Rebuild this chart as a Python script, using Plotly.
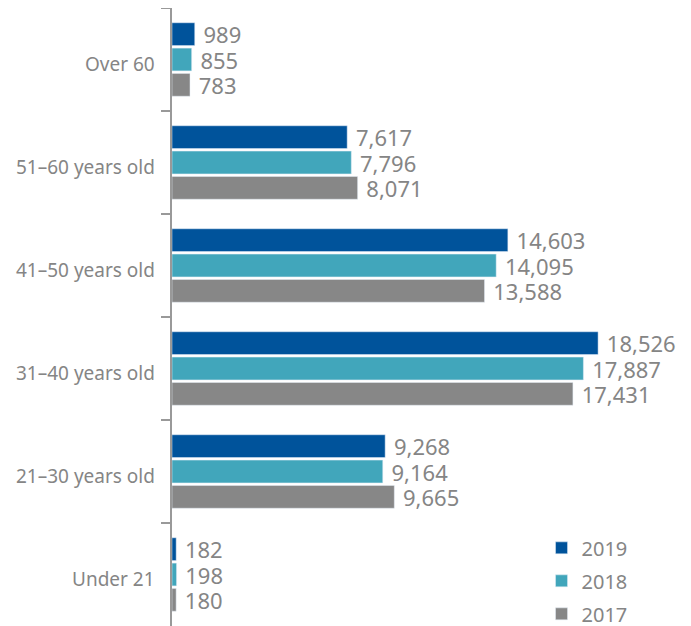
import plotly.graph_objects as go

# age bands, top to bottom
age_groups = ["Over 60", "51–60 years old", "41–50 years old",
              "31–40 years old", "21–30 years old", "Under 21"]

staff_2019 = [989, 7617, 14603, 18526, 9268, 182]
staff_2018 = [855, 7796, 14095, 17887, 9164, 198]
staff_2017 = [783, 8071, 13588, 17431, 9665, 180]

years = ["2019", "2018", "2017"]
colours = ["#00539B", "#41A6BB", "#878787"]
grey_text = "#858585"

fig = go.Figure()
for year, vals, col in zip(years, [staff_2019, staff_2018, staff_2017], colours):
    fig.add_trace(go.Bar(
        y=age_groups, x=vals, name=year, orientation="h",
        marker_color=col, legendgroup=year,
        texttemplate=" %{x:,}", textposition="outside",
        constraintext="none", cliponaxis=False,
        textfont=dict(size=22, color=grey_text),
    ))

# category labels as annotations so they can sit a touch lower than plotly's ticks
for grp in age_groups:
    fig.add_annotation(x=0, xref="paper", y=grp, yref="y", text=grp,
                       xanchor="right", xshift=-15, yshift=-4, showarrow=False,
                       font=dict(size=19, color=grey_text))

# page body adds 8px, so the figure is a bit smaller than the window
fig.update_layout(
    width=683, height=618,
    margin=dict(l=164, r=0, t=0, b=0, autoexpand=False),
    plot_bgcolor="white", paper_bgcolor="white",
    font=dict(family="Noto Sans", color=grey_text),
    barmode="group", bargap=0.262, bargroupgap=0.1,
    legend=dict(x=0.712, y=0.158, xanchor="left", yanchor="top",
                font=dict(size=20, color=grey_text),
                tracegroupgap=4, bgcolor="rgba(0,0,0,0)"),
)
fig.update_xaxes(visible=False, range=[0, 22565])
fig.update_yaxes(autorange="reversed", showline=True, linecolor="#999999",
                 linewidth=2, ticks="outside", tickson="boundaries",
                 ticklen=9, tickcolor="#999999", tickwidth=2,
                 showticklabels=False, automargin=False, showgrid=False)

fig.write_html("out.html")
